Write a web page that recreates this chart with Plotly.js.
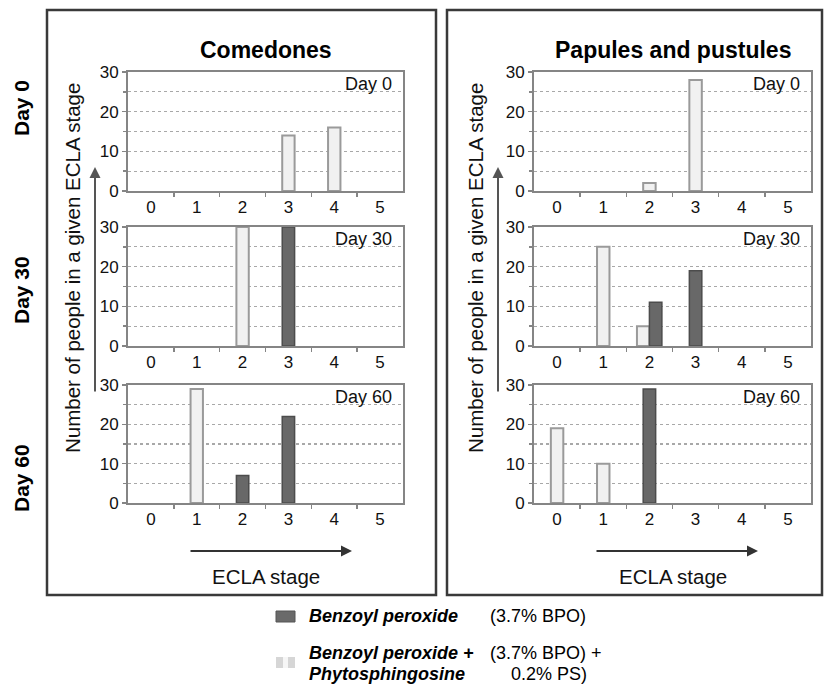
<!DOCTYPE html>
<html>
<head>
<meta charset="utf-8">
<script src="https://cdn.plot.ly/plotly-3.0.1.min.js"></script>
<style>html,body{margin:0;padding:0;background:#fff;}#chart{width:824px;height:684px;}</style>
</head>
<body>
<div id="chart"></div>
<script>
// ---- data ----
const stages = [0, 1, 2, 3, 4, 5];
const stageLabels = ['0', '1', '2', '3', '4', '5'];
const dayLabels = ['Day 0', 'Day 30', 'Day 60'];
const panelTitles = ['Comedones', 'Papules and pustules'];

const comedonesBPO0 = [0, 0, 0, 0, 0, 0];
const comedonesBPO30 = [0, 0, 0, 30, 0, 0];
const comedonesBPO60 = [0, 0, 7, 22, 0, 0];
const comedonesPS0 = [0, 0, 0, 14, 16, 0];
const comedonesPS30 = [0, 0, 30, 0, 0, 0];
const comedonesPS60 = [0, 29, 0, 0, 0, 0];

const papulesBPO0 = [0, 0, 0, 0, 0, 0];
const papulesBPO30 = [0, 0, 11, 19, 0, 0];
const papulesBPO60 = [0, 0, 29, 0, 0, 0];
const papulesPS0 = [0, 0, 2, 28, 0, 0];
const papulesPS30 = [0, 25, 5, 0, 0, 0];
const papulesPS60 = [19, 10, 0, 0, 0, 0];

const yTicks = [0, 10, 20, 30];

// ---- layout helpers ----
const W = 824, H = 684;
const px = x => x / W;
const py = y => 1 - y / H;
const FONT = '"Liberation Sans", Arial, Helvetica, sans-serif';

const panelX = [[128, 403], [534, 811]];
const rowY = [[72, 191], [227, 346], [385, 503]];

const bpoSets = [[comedonesBPO0, comedonesBPO30, comedonesBPO60], [papulesBPO0, papulesBPO30, papulesBPO60]];
const psSets = [[comedonesPS0, comedonesPS30, comedonesPS60], [papulesPS0, papulesPS30, papulesPS60]];

const BW = 0.27;
const traces = [];
const layout = {
  width: W, height: H,
  margin: {l: 0, r: 0, t: 0, b: 0},
  paper_bgcolor: '#fff', plot_bgcolor: '#fff',
  showlegend: false, barmode: 'overlay',
  font: {family: FONT, color: '#111'},
  shapes: [], annotations: []
};

for (let p = 0; p < 2; p++) {
  for (let d = 0; d < 3; d++) {
    const k = p * 3 + d + 1;
    const bpo = bpoSets[p][d], ps = psSets[p][d];
    const both = stages.map((s, i) => bpo[i] > 0 && ps[i] > 0);
    traces.push({
      type: 'bar', x: stages, y: ps, xaxis: 'x' + k, yaxis: 'y' + k,
      width: BW, offset: both.map(b => b ? -BW : -BW / 2),
      marker: {color: '#f1f1f1', line: {color: '#9a9a9a', width: ps.map(v => v > 0 ? 2 : 0)}},
      hoverinfo: 'skip'
    });
    traces.push({
      type: 'bar', x: stages, y: bpo, xaxis: 'x' + k, yaxis: 'y' + k,
      width: BW, offset: both.map(b => b ? 0 : -BW / 2),
      marker: {color: '#686868', line: {color: '#4c4c4c', width: bpo.map(v => v > 0 ? 1.5 : 0)}},
      hoverinfo: 'skip'
    });
    const sfx = k === 1 ? '' : k;
    layout['xaxis' + sfx] = {
      domain: [px(panelX[p][0]), px(panelX[p][1])],
      anchor: 'y' + k, range: [-0.5, 5.5],
      tickmode: 'array', tickvals: stages, ticktext: stageLabels,
      ticks: '', showgrid: false, zeroline: false,
      showline: true, mirror: true, linecolor: '#858585', linewidth: 2,
      tickfont: {size: 17, color: '#111'},
      minor: {tickmode: 'array', tickvals: [0.5, 1.5, 2.5, 3.5, 4.5], ticks: 'outside', ticklen: 4, tickcolor: '#858585', tickwidth: 1.5, showgrid: false},
      fixedrange: true
    };
    layout['yaxis' + sfx] = {
      domain: [py(rowY[d][1]), py(rowY[d][0])],
      anchor: 'x' + k, range: [0, 30],
      tickmode: 'array', tickvals: yTicks,
      ticks: 'outside', ticklen: 4, tickcolor: '#858585', tickwidth: 1.5,
      showgrid: true, gridcolor: '#a8a8a8', griddash: 'dot', gridwidth: 1.2,
      minor: {tick0: 0, dtick: 5, ticks: 'outside', ticklen: 3, tickcolor: '#858585', showgrid: true, gridcolor: '#a8a8a8', griddash: 'dot', gridwidth: 1.2},
      zeroline: false, showline: true, mirror: true, linecolor: '#858585', linewidth: 2,
      tickfont: {size: 17, color: '#111'},
      fixedrange: true
    };
    // in-plot day label
    layout.annotations.push({
      xref: 'paper', yref: 'paper', x: px(panelX[p][1] - 9), y: py(rowY[d][0] + 12),
      xanchor: 'right', yanchor: 'middle', showarrow: false,
      text: dayLabels[d], font: {size: 18, color: '#111'}
    });
  }
  const cx = (panelX[p][0] + panelX[p][1]) / 2;
  const off = p === 0 ? 0 : 403;
  // panel title
  layout.annotations.push({
    xref: 'paper', yref: 'paper', x: px(cx), y: py(50), xanchor: 'center', yanchor: 'middle',
    showarrow: false, text: '<b>' + panelTitles[p] + '</b>', font: {size: 23, color: '#000'}
  });
  // y title
  layout.annotations.push({
    xref: 'paper', yref: 'paper', x: px(72 + off), y: py(268), xanchor: 'center', yanchor: 'middle',
    showarrow: false, textangle: -90, text: 'Number of people in a given ECLA stage', font: {size: 20.5, color: '#111'}
  });
  // vertical arrow
  layout.annotations.push({
    xref: 'paper', yref: 'paper', x: px(95 + off), y: py(167), ax: 0, ay: 393 - 167,
    axref: 'pixel', ayref: 'pixel', showarrow: true, text: '', arrowhead: 2, arrowsize: 1.1,
    arrowwidth: 2, arrowcolor: '#555'
  });
  // horizontal arrow
  layout.annotations.push({
    xref: 'paper', yref: 'paper', x: px(panelX[p][0] + 224), y: py(551), ax: -163, ay: 0,
    axref: 'pixel', ayref: 'pixel', showarrow: true, text: '', arrowhead: 2, arrowsize: 1.1,
    arrowwidth: 2, arrowcolor: '#333'
  });
  // x title
  layout.annotations.push({
    xref: 'paper', yref: 'paper', x: px(cx), y: py(576), xanchor: 'center', yanchor: 'middle',
    showarrow: false, text: 'ECLA stage', font: {size: 20.5, color: '#111'}
  });
}

// row labels
const rowLabelY = [108, 290, 478];
for (let d = 0; d < 3; d++) {
  layout.annotations.push({
    xref: 'paper', yref: 'paper', x: px(21), y: py(rowLabelY[d]), xanchor: 'center', yanchor: 'middle',
    showarrow: false, textangle: -90, text: '<b>' + dayLabels[d] + '</b>', font: {size: 21, color: '#000'}
  });
}

// frames
layout.shapes.push({type: 'rect', xref: 'paper', yref: 'paper', x0: px(47), x1: px(436), y0: py(595), y1: py(10), line: {color: '#3a3a3a', width: 2.5}});
layout.shapes.push({type: 'rect', xref: 'paper', yref: 'paper', x0: px(447), x1: px(822), y0: py(595), y1: py(10), line: {color: '#3a3a3a', width: 2.5}});

// legend
layout.shapes.push({type: 'rect', xref: 'paper', yref: 'paper', x0: px(276), x1: px(295), y0: py(622), y1: py(611), fillcolor: '#6a6a6a', line: {color: '#555', width: 1}});
layout.shapes.push({type: 'rect', xref: 'paper', yref: 'paper', x0: px(276), x1: px(295), y0: py(668), y1: py(657), fillcolor: '#d6d6d6', line: {width: 0}});
layout.shapes.push({type: 'rect', xref: 'paper', yref: 'paper', x0: px(283), x1: px(288), y0: py(668), y1: py(657), fillcolor: '#f6f6f6', line: {width: 0}});

const legendTexts = [
  {x: 307, y: 616, t: '<b><i>Benzoyl peroxide</i></b>'},
  {x: 488, y: 616, t: '(3.7% BPO)'},
  {x: 307, y: 653, t: '<b><i>Benzoyl peroxide +</i></b>'},
  {x: 307, y: 674, t: '<b><i>Phytosphingosine</i></b>'},
  {x: 488, y: 653, t: '(3.7% BPO) +'},
  {x: 509, y: 674, t: '0.2% PS)'}
];
legendTexts.forEach(o => layout.annotations.push({
  xref: 'paper', yref: 'paper', x: px(o.x), y: py(o.y), xanchor: 'left', yanchor: 'middle',
  showarrow: false, text: o.t, font: {size: 18, color: '#000'}
}));

Plotly.newPlot('chart', traces, layout, {staticPlot: true, displayModeBar: false});
</script>
</body>
</html>
